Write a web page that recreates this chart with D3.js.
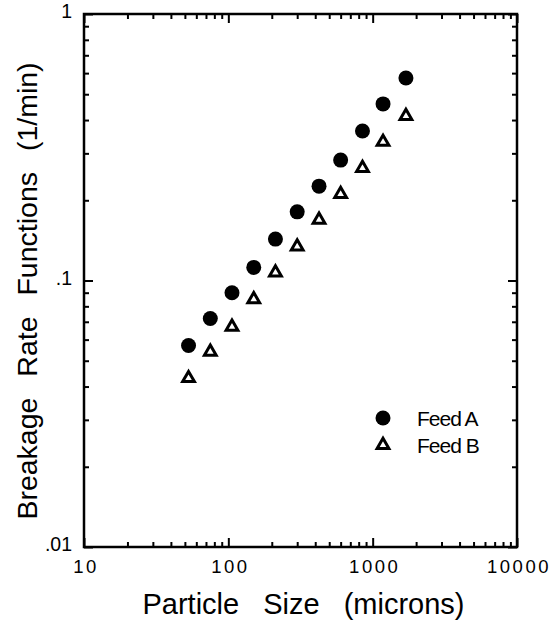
<!DOCTYPE html>
<html>
<head>
<meta charset="utf-8">
<script src="https://cdn.jsdelivr.net/npm/d3@7"></script>
<style>
  body { margin: 0; background: #fff; }
  svg text { font-family: "Liberation Sans", Arial, sans-serif; fill: #000; }
</style>
</head>
<body>
<div id="chart"></div>
<script>
// particle sizes (sieve series, microns)
const sizes = [53, 75, 106, 150, 212, 300, 425, 600, 850, 1180, 1700];
// breakage rate functions (1/min)
const feedA = [0.057, 0.072, 0.090, 0.112, 0.143, 0.181, 0.226, 0.283, 0.364, 0.460, 0.575];
const feedB = [0.043, 0.054, 0.067, 0.085, 0.107, 0.134, 0.169, 0.211, 0.264, 0.331, 0.414];
const seriesNames = ["Feed A", "Feed B"];
const xMajor = [10, 100, 1000, 10000];
const xLabels = ["10", "100", "1000", "10000"];
const yMajor = [0.01, 0.1, 1];
const yLabels = [".01", ".1", "1"];

const W = 556, H = 625;
const margin = { top: 14, right: 39, bottom: 78, left: 84 };
const width = W - margin.left - margin.right;
const height = H - margin.top - margin.bottom;

const svg = d3.select("#chart").append("svg")
    .attr("width", W)
    .attr("height", H);

const g = svg.append("g")
    .attr("transform", `translate(${margin.left},${margin.top})`);

const x = d3.scaleLog().domain([10, 10000]).range([0, width]);
const y = d3.scaleLog().domain([0.01, 1]).range([height, 0]);

// minor ticks 2..9 in every decade
const minorOf = majors => {
    const out = [];
    for (let i = 0; i < majors.length - 1; i++) {
        for (let k = 2; k <= 9; k++) out.push(majors[i] * k);
    }
    return out;
};
const xMinor = minorOf(xMajor);
const yMinor = minorOf(yMajor);

const styleAxis = sel => {
    sel.select(".domain").remove();
    sel.attr("font-family", null).attr("font-size", null);
    sel.selectAll("line").attr("stroke", "#000").attr("stroke-width", 2);
};

// bottom
g.append("g").attr("transform", `translate(0,${height})`)
    .call(d3.axisBottom(x).tickValues(xMinor).tickSize(-5).tickFormat(""))
    .call(styleAxis);
g.append("g").attr("transform", `translate(0,${height})`)
    .call(d3.axisBottom(x).tickValues(xMajor).tickSize(-9).tickPadding(13)
        .tickFormat((d, i) => xLabels[i]))
    .call(styleAxis)
    .call(a => a.selectAll("text")
        .attr("font-size", 18.5)
        .style("letter-spacing", "2.5px")
        .attr("dx", "1.5px"));

// top
g.append("g")
    .call(d3.axisTop(x).tickValues(xMinor).tickSize(-5).tickFormat(""))
    .call(styleAxis);
g.append("g")
    .call(d3.axisTop(x).tickValues(xMajor).tickSize(-9).tickFormat(""))
    .call(styleAxis);

// left
g.append("g")
    .call(d3.axisLeft(y).tickValues(yMinor).tickSize(-5).tickFormat(""))
    .call(styleAxis);
g.append("g")
    .call(d3.axisLeft(y).tickValues(yMajor).tickSize(-9).tickPadding(12)
        .tickFormat((d, i) => yLabels[i]))
    .call(styleAxis)
    .call(a => a.selectAll("text").attr("font-size", 19.5).attr("dy", "0.2em"));

// right
g.append("g").attr("transform", `translate(${width},0)`)
    .call(d3.axisRight(y).tickValues(yMinor).tickSize(-5).tickFormat(""))
    .call(styleAxis);
g.append("g").attr("transform", `translate(${width},0)`)
    .call(d3.axisRight(y).tickValues(yMajor).tickSize(-9).tickFormat(""))
    .call(styleAxis);

// frame
g.append("rect")
    .attr("width", width)
    .attr("height", height)
    .attr("fill", "none")
    .attr("stroke", "#000")
    .attr("stroke-width", 2.5);

// data
const rowsA = sizes.map((s, i) => ({ s, v: feedA[i] }));
const rowsB = sizes.map((s, i) => ({ s, v: feedB[i] }));

const tri = d3.symbol().type(d3.symbolTriangle).size(60);

g.append("g").selectAll("circle")
    .data(rowsA)
    .enter()
    .append("circle")
    .attr("cx", d => x(d.s))
    .attr("cy", d => y(d.v))
    .attr("r", 7.5)
    .attr("fill", "#000");

g.append("g").selectAll("path")
    .data(rowsB)
    .enter()
    .append("path")
    .attr("d", tri)
    .attr("transform", d => `translate(${x(d.s)},${y(d.v)})`)
    .attr("fill", "#fff")
    .attr("stroke", "#000")
    .attr("stroke-width", 3);

// legend
const legend = svg.append("g").attr("transform", "translate(383,418)");
seriesNames.forEach((name, i) => {
    const row = legend.append("g").attr("transform", `translate(0,${i * 27})`);
    if (i === 0) {
        row.append("circle").attr("r", 7.5).attr("fill", "#000");
    } else {
        row.append("path").attr("d", tri)
            .attr("fill", "#fff").attr("stroke", "#000").attr("stroke-width", 3);
    }
    row.append("text")
        .attr("x", 34)
        .attr("y", 8)
        .style("font-size", "21px")
        .style("letter-spacing", "-1px")
        .text(name);
});

// axis titles
svg.append("text")
    .attr("x", margin.left + width / 2 + 3)
    .attr("y", 614)
    .attr("text-anchor", "middle")
    .style("font-size", "29px")
    .style("word-spacing", "16px")
    .text("Particle Size (microns)");

svg.append("text")
    .attr("transform", `translate(37,291) rotate(-90)`)
    .attr("text-anchor", "middle")
    .style("font-size", "28.5px")
    .style("word-spacing", "13px")
    .text("Breakage Rate Functions (1/min)");
</script>
</body>
</html>
